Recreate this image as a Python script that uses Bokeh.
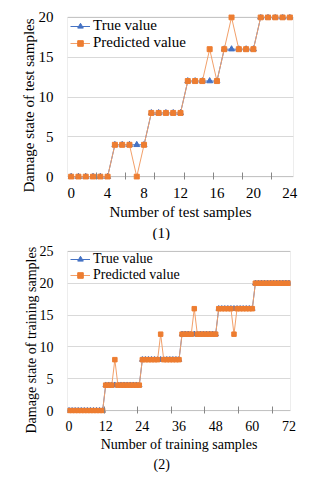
from bokeh.plotting import figure
from bokeh.layouts import column
from bokeh.models import FixedTicker, Range1d, BoxAnnotation, Title
from bokeh.embed import file_html
from bokeh.resources import INLINE

# ---------------- data: chart (1) test samples ----------------
test_true = [0, 0, 0, 0, 0, 0, 4, 4, 4, 4, 4, 8, 8, 8, 8, 8,
             12, 12, 12, 12, 12, 16, 16, 16, 16, 16, 20, 20, 20, 20, 20]
test_pred = [0, 0, 0, 0, 0, 0, 4, 4, 4, 0, 4, 8, 8, 8, 8, 8,
             12, 12, 12, 16, 12, 16, 20, 16, 16, 16, 20, 20, 20, 20, 20]
test_tick_pos = [0, 5, 10, 15, 20, 25, 30]
test_tick_labels = ["0", "4", "8", "12", "16", "20", "24"]
test_minor_ticks = [3.5, 7.5, 11.5, 15.5, 19.5, 23.5, 27.5]
test_y_ticks = [0, 5, 10, 15, 20]

# ---------------- data: chart (2) training samples ----------------
train_true = [0, 0, 0, 0, 0, 0, 0, 0, 0, 0, 0, 0,
              4, 4, 4, 4, 4, 4, 4, 4, 4, 4, 4, 4,
              8, 8, 8, 8, 8, 8, 8, 8, 8, 8, 8, 8, 8,
              12, 12, 12, 12, 12, 12, 12, 12, 12, 12, 12, 12,
              16, 16, 16, 16, 16, 16, 16, 16, 16, 16, 16, 16,
              20, 20, 20, 20, 20, 20, 20, 20, 20, 20, 20, 20]
train_pred = [0, 0, 0, 0, 0, 0, 0, 0, 0, 0, 0, 0,
              4, 4, 4, 8, 4, 4, 4, 4, 4, 4, 4, 4,
              8, 8, 8, 8, 8, 8, 12, 8, 8, 8, 8, 8, 8,
              12, 12, 12, 12, 16, 12, 12, 12, 12, 12, 12, 12,
              16, 16, 16, 16, 16, 12, 16, 16, 16, 16, 16, 16,
              20, 20, 20, 20, 20, 20, 20, 20, 20, 20, 20, 20]
train_tick_pos = [0, 12, 24, 36, 48, 60, 72]
train_tick_labels = ["0", "12", "24", "36", "48", "60", "72"]
train_minor_ticks = [11.5, 22.5, 33.5, 44.5, 55.5, 66.5]
train_y_ticks = [0, 5, 10, 15, 20, 25]

FONT = "Liberation Serif"
ORANGE = "#ED7D31"
ORANGE_LINE = "#F2A06A"
BLUE = "#4472C4"
AXIS_GRAY = "#868686"
GRID_GRAY = "#D9D9D9"


def make_chart(y_true, y_pred, tick_pos, tick_labels, minor_ticks, y_ticks,
               ylabel, xlabel, caption, pad, frame_w, top, caption_offset,
               msize, fs, ylab_offset, ylab_standoff, tick_standoff,
               cap_standoff):
    n = len(y_true)
    xs = list(range(n))
    ymax = y_ticks[-1]
    p = figure(frame_width=frame_w, frame_height=165, output_backend="svg",
               toolbar_location=None,
               x_range=Range1d(-0.5, n - 0.5),
               y_range=Range1d(-pad, ymax + pad),
               min_border_left=67, min_border_right=10,
               min_border_top=top, min_border_bottom=0)
    p.outline_line_color = None

    # frame box of the plot area
    p.add_layout(BoxAnnotation(left=-0.5, right=n - 0.5, bottom=0, top=ymax,
                               fill_alpha=0, line_color=AXIS_GRAY,
                               line_width=1, level="underlay"))

    # x axis
    xa = p.xaxis[0]
    xa.ticker = FixedTicker(ticks=tick_pos, minor_ticks=minor_ticks)
    xa.major_label_overrides = {t: l for t, l in zip(tick_pos, tick_labels)}
    xa.major_tick_line_color = None
    xa.minor_tick_line_color = AXIS_GRAY
    xa.minor_tick_in = 7
    xa.minor_tick_out = 0
    xa.axis_line_color = None
    xa.axis_label = xlabel
    xa.major_label_standoff = tick_standoff
    xa.axis_label_standoff = 3

    # y axis
    ya = p.yaxis[0]
    ya.ticker = FixedTicker(ticks=y_ticks)
    ya.major_tick_line_color = None
    ya.minor_tick_line_color = None
    ya.axis_line_color = None
    ya.major_label_standoff = 8

    for ax in (xa, ya):
        ax.major_label_text_font = FONT
        ax.major_label_text_font_size = fs
        ax.major_label_text_color = "black"
        ax.axis_label_text_font = FONT
        ax.axis_label_text_font_size = fs
        ax.axis_label_text_font_style = "normal"
        ax.axis_label_text_color = "black"

    # y axis title as a side title (lets it sit lower than the frame centre)
    p.add_layout(Title(text=ylabel, align="left", offset=ylab_offset,
                       standoff=ylab_standoff, text_font=FONT,
                       text_font_size=fs, text_font_style="normal",
                       text_color="black"),
                 "left")

    p.xgrid.visible = False
    p.ygrid.grid_line_color = GRID_GRAY

    p.line(xs, y_true, color=BLUE, line_width=1, legend_label="True value")
    p.scatter(xs, y_true, marker="triangle", size=msize + 1, color=BLUE,
              legend_label="True value")
    p.line(xs, y_pred, color=ORANGE_LINE, line_width=1,
           legend_label="Predicted value")
    p.scatter(xs, y_pred, marker="square", size=msize, color=ORANGE,
              legend_label="Predicted value")

    lg = p.legend[0]
    lg.location = "top_left"
    lg.margin = 3
    lg.padding = 2
    lg.spacing = 0
    lg.glyph_width = 20
    lg.glyph_height = 14
    lg.label_height = 14
    lg.label_standoff = 3
    lg.label_text_font = FONT
    lg.label_text_font_size = fs
    lg.label_text_color = "black"
    lg.background_fill_alpha = 0
    lg.border_line_color = None

    p.add_layout(Title(text=caption, align="left", offset=caption_offset,
                       standoff=cap_standoff,
                       text_font=FONT, text_font_size=fs,
                       text_font_style="normal", text_color="black"),
                 "below")
    return p


p1 = make_chart(test_true, test_pred, test_tick_pos, test_tick_labels,
                test_minor_ticks, test_y_ticks,
                "Damage state of test samples", "Number of test samples",
                "(1)", 0.35, 226, 14, 85, 5, "15px", -13, -3, 2, 0)
p2 = make_chart(train_true, train_pred, train_tick_pos, train_tick_labels,
                train_minor_ticks, train_y_ticks,
                "Damage state of training samples",
                "Number of training samples",
                "(2)", 0.45, 223, 8, 86, 4.5, "14px", -20, -4, 1, 1)

layout = column(p1, p2, spacing=0)
open("out.html", "w").write(file_html(layout, INLINE))
